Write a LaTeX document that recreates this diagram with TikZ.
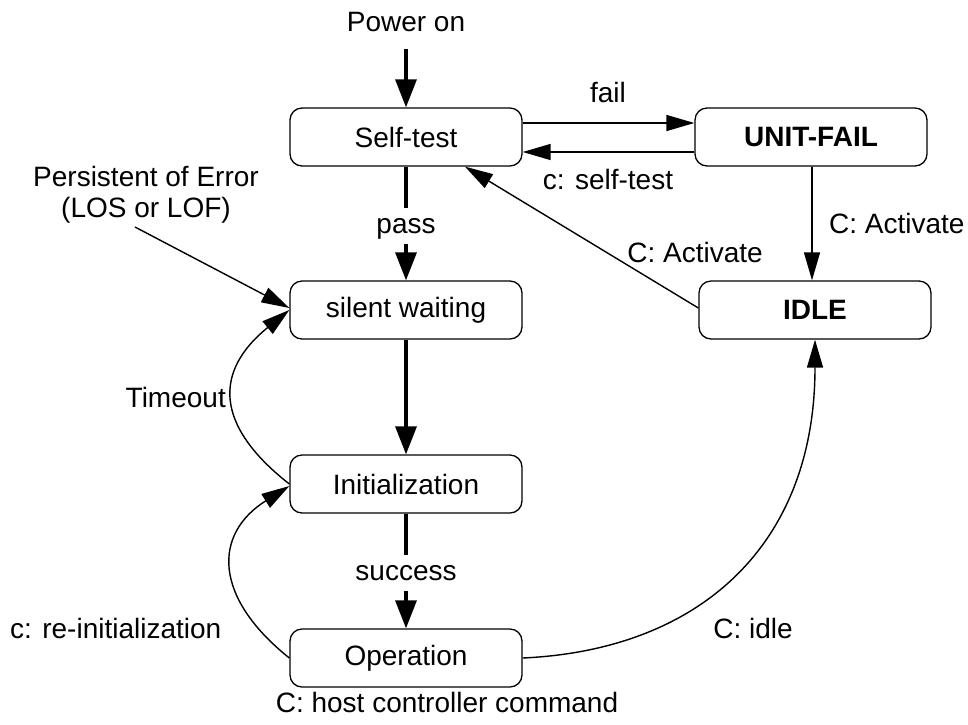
\documentclass[tikz,border=0pt]{standalone}
\usepackage{fontspec}
\setmainfont{Liberation Sans}
\usetikzlibrary{arrows.meta,calc}
\begin{document}
\begin{tikzpicture}[x=1pt,y=-1pt,
  state/.style={draw,line width=1.3pt,rounded corners=12pt,minimum width=232pt,minimum height=58pt,inner sep=0pt,font=\fontsize{28}{33}\selectfont},
  lbl/.style={font=\fontsize{28}{31}\selectfont,inner sep=0pt,anchor=base},
  gaplbl/.style={lbl,fill=white,text height=20pt,text depth=6pt,inner ysep=5pt,inner xsep=3pt},
  thinarr/.style={line width=1.4pt,-{Triangle[length=28pt,width=16pt]}},
  thickarr/.style={line width=3.3pt,-{Triangle[length=28pt,width=21pt]}},
]
\useasboundingbox (0,0) rectangle (968,724);

% states
\node[state] (st)   at (406,137) {Self-test};
\node[state] (uf)   at (811,137) {\bfseries UNIT-FAIL};
\node[state] (idle) at (815,310) {\bfseries IDLE};
\node[state] (sw)   at (406,310) {silent waiting};
\node[state] (init) at (406,484) {Initialization};
\node[state] (op)   at (406,658) {Operation};

% free ends
\node[lbl] (pwr) at (406,31) {Power on};
\coordinate (pwrend) at (406,49);
\node[lbl,align=center] (pe) at (146,217) {Persistent of Error\\(LOS or LOF)};
\coordinate (pestart) at (135,227);

% thick main flow
\draw[thickarr] (pwrend) -- (st.north);
\draw[thickarr] (st.south) -- (sw.north);
\draw[thickarr] (sw.south) -- (init.north);
\draw[thickarr] (init.south) -- (op.north);
\node[gaplbl] (passl) at (406,233) {pass};
\node[gaplbl] (succl) at (406,580) {success};

% thin transitions
\draw[thinarr] ([yshift=14pt]st.east) -- ([yshift=14pt]uf.west);
\draw[thinarr] ([yshift=-15pt]uf.west) -- ([yshift=-15pt]st.east);
\draw[thinarr] ([xshift=1pt]uf.south) -- ([xshift=-3pt]idle.north);
\draw[thinarr] ([yshift=2pt]idle.west) -- ([xshift=59pt]st.south);
\draw[thinarr] (pestart) -- ([yshift=2pt]sw.west);
\draw[thinarr] (init.west) .. controls (214,425) and (214,371) .. (sw.west);
\draw[thinarr] (op.west) .. controls (213,597) and (213,534) .. ([yshift=-2pt]init.west);
\draw[thinarr] (op.east) .. controls (700,650) and (815,545) .. (idle.south);

% labels
\node[lbl] (faill) at (608,102) {fail};
\node[lbl] (cstl) at (608,189) {c: self-test};
\node[lbl,anchor=base west] (act1) at (829,233) {C: Activate};
\node[lbl] (act2) at (695,262) {C: Activate};
\node[lbl,anchor=base east] (tol) at (226,407) {Timeout};
\node[lbl,anchor=base west] (reinit) at (10,638) {c: re-initialization};
\node[lbl] (idlel) at (753,638) {C: idle};
\node[lbl] (legend) at (447,712) {C: host controller command};
\end{tikzpicture}
\end{document}
